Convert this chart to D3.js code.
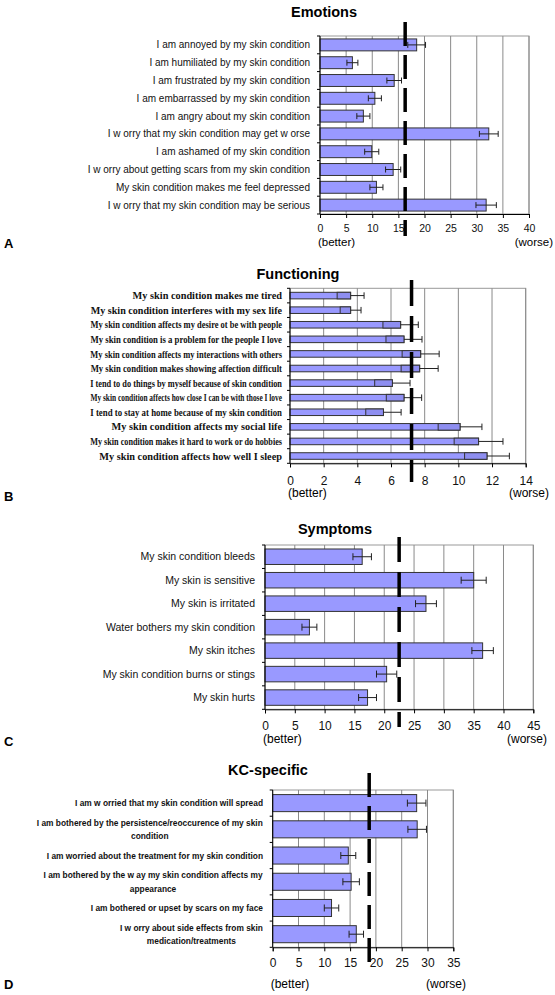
<!DOCTYPE html>
<html><head><meta charset="utf-8">
<script src="https://cdn.jsdelivr.net/npm/d3@7"></script>
<style>body{margin:0;background:#fff} svg{display:block}</style>
</head><body>
<script>
// ---------- DATA ----------
const emotionCats = [
  "I am annoyed by my skin condition",
  "I am humiliated by my skin condition",
  "I am frustrated by my skin condition",
  "I am embarrassed by my skin condition",
  "I am angry about my skin condition",
  "I w orry that my skin condition may get w orse",
  "I am ashamed of my skin condition",
  "I w orry about getting scars from my skin condition",
  "My skin condition makes me feel depressed",
  "I w orry that my skin condition may be serious"
];
const emotionVals = [18.5, 6.2, 14.2, 10.5, 8.3, 32.3, 9.9, 14.0, 10.8, 31.8];
const emotionErr  = [1.7, 1.05, 1.4, 1.25, 1.25, 1.8, 1.35, 1.45, 1.25, 1.95];
const emotionRef = 16.3;
const emotionTicks = [0, 5, 10, 15, 20, 25, 30, 35, 40];

const functionCats = [
  "My skin condition makes me tired",
  "My skin condition interferes with my sex life",
  "My skin condition affects my desire ot be with people",
  "My skin condition is a problem for the people I love",
  "My skin condition affects my interactions with others",
  "My skin condition makes showing affection difficult",
  "I tend to do things by myself because of skin condition",
  "My skin condition affects how close I can be with those I love",
  "I tend to stay at home because of my skin condition",
  "My skin condition affects my social life",
  "My skin condition makes it hard to work or do hobbies",
  "My skin condition affects how well I sleep"
];
const functionVals = [3.6, 3.6, 6.57, 6.77, 7.76, 7.7, 6.08, 6.77, 5.55, 10.1, 11.2, 11.7];
const functionErr  = [0.8, 0.62, 1.05, 1.07, 1.1, 1.1, 1.05, 1.05, 1.05, 1.3, 1.45, 1.33];
const functionRef = 7.22;
const functionTicks = [0, 2, 4, 6, 8, 10, 12, 14];

const symptomCats = [
  "My skin condition bleeds",
  "My skin is sensitive",
  "My skin is irritated",
  "Water bothers my skin condition",
  "My skin itches",
  "My skin condition burns or stings",
  "My skin hurts"
];
const symptomVals = [16.3, 35.0, 27.0, 7.45, 36.5, 20.4, 17.2];
const symptomErr  = [1.55, 2.1, 1.75, 1.25, 1.8, 1.7, 1.5];
const symptomRef = 22.5;
const symptomTicks = [0, 5, 10, 15, 20, 25, 30, 35, 40, 45];

const kcCats = [
  "I am w orried that my skin condition will spread",
  "I am bothered by the persistence/reoccurence of my skin\ncondition",
  "I am worried about the treatment for my skin condition",
  "I am bothered by the w ay my skin condition affects my\nappearance",
  "I am bothered or upset by scars on my face",
  "I w orry about side effects from skin\nmedication/treatments"
];
const kcVals = [27.9, 28.0, 14.65, 15.2, 11.4, 16.2];
const kcErr  = [1.8, 1.8, 1.45, 1.6, 1.4, 1.4];
const kcRef = 18.7;
const kcTicks = [0, 5, 10, 15, 20, 25, 30, 35];

// ---------- DRAW ----------
const BAR = "#9999ff";
const SANS = "'Liberation Sans', Arial, sans-serif";
const SERIF = "'Liberation Serif', 'Times New Roman', serif";
const svg = d3.select("body").append("svg").attr("width", 555).attr("height", 995);

function panel(o) {
  const x = d3.scaleLinear().domain([0, o.ticks[o.ticks.length - 1]]).range([o.x0, o.x1]);
  const y = d3.scaleBand().domain(o.cats).range([o.y0, o.y1]).paddingInner(o.pad).paddingOuter(o.pad / 2);
  const g = svg.append("g");
  const rows = o.cats.map((c, i) => ({c, v: o.vals[i], e: o.errs[i]}));

  // frame + gridlines
  g.append("rect").attr("x", o.x0).attr("y", o.y0).attr("width", o.x1 - o.x0).attr("height", o.y1 - o.y0)
    .attr("fill", "#fff").attr("stroke", "#999").attr("stroke-width", 1);
  g.selectAll(".grid").data(o.ticks.slice(1)).join("line")
    .attr("x1", d => x(d)).attr("x2", d => x(d)).attr("y1", o.y0).attr("y2", o.y1)
    .attr("stroke", "#8a8a8a").attr("stroke-width", 1);

  // bars
  g.selectAll(".bar").data(rows).join("rect")
    .attr("x", x(0)).attr("y", d => y(d.c)).attr("width", d => x(d.v) - x(0)).attr("height", y.bandwidth())
    .attr("fill", BAR).attr("stroke", "#333").attr("stroke-width", 1);

  // error bars
  const cap = o.cap;
  rows.forEach(d => {
    const cy = y(d.c) + y.bandwidth() / 2;
    if (o.boxErr) {
      g.append("rect").attr("x", x(d.v - d.e)).attr("y", y(d.c)).attr("width", x(d.v) - x(d.v - d.e))
        .attr("height", y.bandwidth()).attr("fill", "#8e8ef0").attr("stroke", "#333").attr("stroke-width", 1);
      g.append("line").attr("x1", x(d.v)).attr("x2", x(d.v + d.e)).attr("y1", cy).attr("y2", cy)
        .attr("stroke", "#222").attr("stroke-width", 1);
      g.append("line").attr("x1", x(d.v + d.e)).attr("x2", x(d.v + d.e)).attr("y1", cy - cap / 2).attr("y2", cy + cap / 2)
        .attr("stroke", "#222").attr("stroke-width", 1);
    } else {
      g.append("line").attr("x1", x(d.v - d.e)).attr("x2", x(d.v + d.e)).attr("y1", cy).attr("y2", cy)
        .attr("stroke", "#222").attr("stroke-width", 1);
      [d.v - d.e, d.v + d.e].forEach(t => g.append("line").attr("x1", x(t)).attr("x2", x(t))
        .attr("y1", cy - cap / 2).attr("y2", cy + cap / 2).attr("stroke", "#222").attr("stroke-width", 1));
    }
  });

  // bottom axis
  const ax = g.append("g").attr("transform", `translate(0,${o.y1})`)
    .call(d3.axisBottom(x).tickValues(o.ticks).tickSize(4).tickPadding(o.tickPad).tickFormat(d3.format("d")));
  ax.select(".domain").attr("stroke", "#000");
  ax.selectAll(".tick line").attr("stroke", "#000");
  ax.selectAll(".tick text").attr("font-family", SANS).attr("font-size", o.tickFs).attr("fill", "#111");

  // left axis line + boundary ticks
  g.append("line").attr("x1", o.x0).attr("x2", o.x0).attr("y1", o.y0).attr("y2", o.y1).attr("stroke", "#000");
  const bounds = o.cats.map(c => y(c) - y.step() * o.pad / 2).concat([o.y1]);
  g.selectAll(".yt").data(bounds).join("line")
    .attr("x1", o.x0 - 3).attr("x2", o.x0).attr("y1", d => d).attr("y2", d => d).attr("stroke", "#000");

  // reference dashed line
  g.append("line").attr("x1", x(o.ref)).attr("x2", x(o.ref)).attr("y1", o.refTop).attr("y2", o.refBot)
    .attr("stroke", "#000").attr("stroke-width", 3.5).attr("stroke-dasharray", o.dash);

  // category labels
  rows.forEach(d => {
    const lines = d.c.split("\n");
    const cy = y(d.c) + y.bandwidth() / 2;
    const lh = o.labFs * 1.4;
    const t = g.append("g").attr("transform", `translate(${o.labR},${cy})`);
    const txt = t.append("text").attr("font-family", o.labFont).attr("font-size", o.labFs)
      .attr("font-weight", o.labW).attr("fill", "#111");
    lines.forEach((ln, i) => txt.append("tspan").attr("x", 0)
      .attr("y", (i - (lines.length - 1) / 2) * lh).attr("dy", "0.35em").text(ln));
    const w = txt.node().getBBox().width;
    let sx = o.labSx;
    if (o.maxW && w * sx > o.maxW) sx = o.maxW / w;
    t.attr("transform", `translate(${o.labR},${cy}) scale(${sx},1)`);
    if (lines.length > 1) {
      txt.attr("text-anchor", "middle").selectAll("tspan").attr("x", -w / 2);
    } else {
      txt.attr("text-anchor", "end");
    }
  });

  // title
  g.append("text").attr("x", o.titleX).attr("y", o.titleY).attr("text-anchor", "middle")
    .attr("font-family", SANS).attr("font-weight", "bold").attr("font-size", 14.5).attr("fill", "#000").text(o.title);
  // better / worse
  g.append("text").attr("x", o.x0 - 2).attr("y", o.bwY).attr("font-family", SANS).attr("font-size", o.bwFs).text("(better)");
  g.append("text").attr("x", o.worseR).attr("y", o.bwY).attr("text-anchor", "end").attr("font-family", SANS).attr("font-size", o.bwFs).text("(worse)");
  // panel letter
  g.append("text").attr("x", 4).attr("y", o.letterY).attr("font-family", SANS).attr("font-weight", "bold")
    .attr("font-size", 13).text(o.letter);
}

panel({cats: emotionCats, vals: emotionVals, errs: emotionErr, ref: emotionRef, ticks: emotionTicks,
  x0: 320, x1: 529, y0: 36, y1: 214, pad: 0.33, cap: 6, tickPad: 7, tickFs: 10.5,
  refTop: 22, refBot: 236, dash: "24,9", labR: 310, labSx: 1, labFs: 10, labFont: SANS, labW: "normal",
  title: "Emotions", titleX: 324, titleY: 17, bwY: 246, bwFs: 11.5, worseR: 553, letter: "A", letterY: 248});

panel({cats: functionCats, vals: functionVals, errs: functionErr, ref: functionRef, ticks: functionTicks,
  x0: 290, x1: 525.7, y0: 288.3, y1: 463.3, pad: 0.55, cap: 6.5, tickPad: 9, tickFs: 12, boxErr: true,
  refTop: 280, refBot: 482, dash: "26,10", labR: 282, labSx: 1, maxW: 192, labFs: 10.3, labFont: SERIF, labW: "bold",
  title: "Functioning", titleX: 298, titleY: 279, bwY: 497, bwFs: 12, worseR: 549, letter: "B", letterY: 501});

panel({cats: symptomCats, vals: symptomVals, errs: symptomErr, ref: symptomRef, ticks: symptomTicks,
  x0: 265, x1: 533.3, y0: 545, y1: 709.3, pad: 0.34, cap: 7, tickPad: 8, tickFs: 12,
  refTop: 537, refBot: 727, dash: "25,10", labR: 255, labSx: 1, labFs: 10.5, labFont: SANS, labW: "normal",
  title: "Symptoms", titleX: 335, titleY: 534, bwY: 743, bwFs: 12, worseR: 547, letter: "C", letterY: 746});

panel({cats: kcCats, vals: kcVals, errs: kcErr, ref: kcRef, ticks: kcTicks,
  x0: 272.7, x1: 453.3, y0: 790, y1: 947.3, pad: 0.35, cap: 7, tickPad: 7, tickFs: 12,
  refTop: 773, refBot: 965, dash: "24,9", labR: 263, labSx: 0.88, labFs: 9.5, labFont: SANS, labW: "bold",
  title: "KC-specific", titleX: 268, titleY: 775, bwY: 988, bwFs: 12, worseR: 466, letter: "D", letterY: 989});
</script>
</body></html>
